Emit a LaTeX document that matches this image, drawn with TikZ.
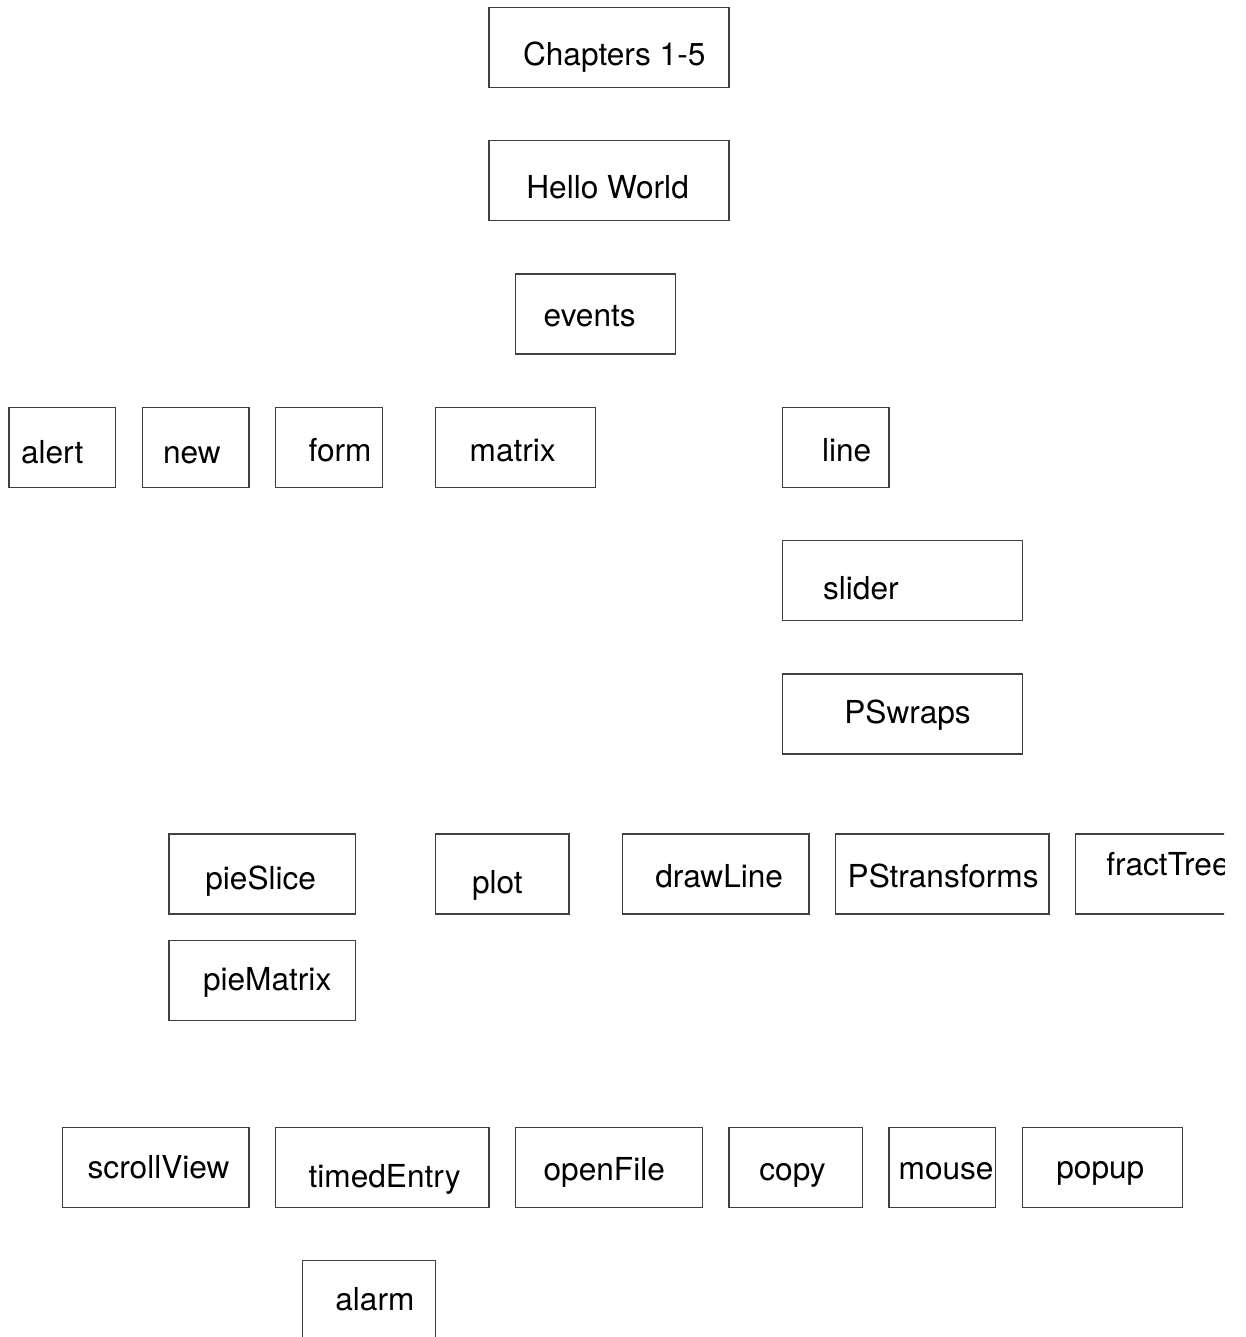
\documentclass[tikz,border=0pt]{standalone}
\usepackage{fontspec}
\setmainfont{TeX Gyre Heros}
\begin{document}
\begin{tikzpicture}[x=0.02cm,y=-0.02cm,font=\fontsize{18}{22}\selectfont,
                        box/.style={draw=black!75,line width=0.6pt},
                        txt/.style={anchor=base west,inner sep=0pt}]
                        \useasboundingbox (0,0) rectangle (1245,1337);
                        \clip (0,0) rectangle (1224,1337);

                        % top column
                        \draw[box] (489,7.3) rectangle (729,87.3);
                        \node[txt] (chapters) at (522.7,65.7){Chapters 1-5};
                        \draw[box] (489,140.7) rectangle (729,220.7);
                        \node[txt] (hello) at (526,199){Hello World};
                        \draw[box] (515.7,274) rectangle (675.7,354);
                        \node[txt] (events) at (543.3,326.7){events};

                        % fourth row
                        \draw[box] (9,407.3) rectangle (115.7,487.3);
                        \node[txt] (alert) at (20.7,463.3){alert};
                        \draw[box] (142.3,407.3) rectangle (249,487.3);
                        \node[txt] (new) at (162.7,463.3){new};
                        \draw[box] (275.7,407.3) rectangle (382.3,487.3);
                        \node[txt] (form) at (308.3,461.7){form};
                        \draw[box] (435.7,407.3) rectangle (595.7,487.3);
                        \node[txt] (matrix) at (469.3,461.7){matrix};
                        \draw[box] (782.3,407.3) rectangle (889,487.3);
                        \node[txt] (line) at (821.7,461.7){line};

                        % right column
                        \draw[box] (782.3,540.7) rectangle (1022.3,620.7);
                        \node[txt] (slider) at (822.7,599.3){slider};
                        \draw[box] (782.3,674) rectangle (1022.3,754);
                        \node[txt] (pswraps) at (844,723.3){PSwraps};

                        % graphics row
                        \draw[box] (169,834) rectangle (355.7,914);
                        \node[txt] (pieslice) at (205,889.3){pieSlice};
                        \draw[box] (435.7,834) rectangle (569,914);
                        \node[txt] (plot) at (471.7,893.3){plot};
                        \draw[box] (622.3,834) rectangle (809,914);
                        \node[txt] (drawline) at (655,887.7){drawLine};
                        \draw[box] (835.7,834) rectangle (1049,914);
                        \node[txt] (pstransforms) at (847.3,887.7){PStransforms};
                        \draw[box] (1075.7,834) rectangle (1262.3,914);
                        \node[txt] (fracttree) at (1106,875){fractTree};
                        \draw[box] (169,940.7) rectangle (355.7,1020.7);
                        \node[txt] (piematrix) at (202.7,990){pieMatrix};

                        % bottom row
                        \draw[box] (62.3,1127.3) rectangle (249,1207.3);
                        \node[txt] (scrollview) at (87.3,1178.3){scrollView};
                        \draw[box] (275.7,1127.3) rectangle (489,1207.3);
                        \node[txt] (timedentry) at (308.3,1187){timedEntry};
                        \draw[box] (515.7,1127.3) rectangle (702.3,1207.3);
                        \node[txt] (openfile) at (543.3,1180){openFile};
                        \draw[box] (729,1127.3) rectangle (862.3,1207.3);
                        \node[txt] (copy) at (759,1180){copy};
                        \draw[box] (889,1127.3) rectangle (995.7,1207.3);
                        \node[txt] (mouse) at (898.3,1179.3){mouse};
                        \draw[box] (1022.3,1127.3) rectangle (1182.3,1207.3);
                        \node[txt] (popup) at (1056,1178.3){popup};
                        \draw[box] (302.3,1260.7) rectangle (435.7,1340.7);
                        \node[txt] (alarm) at (335,1310.7){alarm};
                    \end{tikzpicture}
\end{document}
